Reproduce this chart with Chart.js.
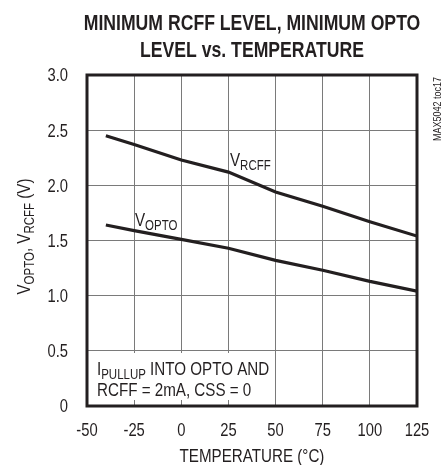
<!DOCTYPE html>
<html>
<head>
<meta charset="utf-8">
<script src="https://cdn.jsdelivr.net/npm/chart.js@4/dist/chart.umd.min.js"></script>
<style>
html,body{margin:0;padding:0;background:#fff;}
#wrap{width:446px;height:465px;position:relative;}
</style>
</head>
<body>
<div id="wrap"><canvas id="c" width="446" height="465"></canvas></div>
<script>
const temps = [-40, -25, 0, 25, 50, 75, 100, 125];
const vrcff = [2.45, 2.37, 2.23, 2.12, 1.94, 1.81, 1.67, 1.54];
const vopto = [1.64, 1.59, 1.51, 1.43, 1.32, 1.23, 1.13, 1.04];
const xTicks = [-50, -25, 0, 25, 50, 75, 100, 125];
const yTicks = [0, 0.5, 1.0, 1.5, 2.0, 2.5, 3.0];
const titleLines = ['MINIMUM RCFF LEVEL, MINIMUM OPTO', 'LEVEL vs. TEMPERATURE'];

const FAM = "'Liberation Sans Narrow','Arial Narrow','Liberation Sans',Arial,sans-serif";
const INK = '#231f20';
const SX = 0.82; // condensed look

// parts: [[text, isSub]]
function txt(ctx, parts, x, y, size, o) {
  o = o || {};
  const sub = Math.round(size * 0.75);
  const w8 = o.bold ? 'bold ' : '';
  let w = 0;
  parts.forEach(p => { ctx.font = w8 + (p[1] ? sub : size) + 'px ' + FAM; w += ctx.measureText(p[0]).width; });
  let start = 0;
  if (o.align === 'center') start = -w / 2;
  else if (o.align === 'right') start = -w;
  ctx.save();
  ctx.translate(x, y);
  if (o.rot) ctx.rotate(o.rot);
  ctx.scale(SX, 1);
  ctx.textAlign = 'left';
  ctx.textBaseline = o.baseline || 'alphabetic';
  let cx = start;
  parts.forEach(p => {
    ctx.font = w8 + (p[1] ? sub : size) + 'px ' + FAM;
    ctx.fillText(p[0], cx, p[1] ? size * 0.22 : 0);
    cx += ctx.measureText(p[0]).width;
  });
  ctx.restore();
}

const deco = {
  id: 'deco',
  beforeDatasetsDraw(chart) {
    // white backing behind the condition note (covers grid lines)
    const ctx = chart.ctx;
    ctx.save();
    ctx.fillStyle = '#fff';
    ctx.fillRect(89, 353, 183, 47);
    ctx.restore();
  },
  afterDatasetsDraw(chart) {
    const ctx = chart.ctx, a = chart.chartArea;
    const xs = chart.scales.x, ys = chart.scales.y;
    ctx.save();
    ctx.strokeStyle = INK;
    ctx.lineWidth = 3;
    ctx.strokeRect(a.left, a.top, a.right - a.left, a.bottom - a.top);
    ctx.fillStyle = INK;
    // tick labels via scales
    xs.ticks.forEach(t => {
      txt(ctx, [[String(t.value), 0]], xs.getPixelForValue(t.value), 436, 18, { align: 'center' });
    });
    ys.ticks.forEach(t => {
      const lab = t.value === 0 ? '0' : t.value.toFixed(1);
      txt(ctx, [[lab, 0]], 68, ys.getPixelForValue(t.value) + 6.4, 18, { align: 'right' });
    });
    // title
    const cx = (a.left + a.right) / 2;
    txt(ctx, [[titleLines[0], 0]], cx, 30, 21.5, { bold: true, align: 'center' });
    txt(ctx, [[titleLines[1], 0]], cx, 56.5, 21.5, { bold: true, align: 'center' });
    // x axis title
    txt(ctx, [['TEMPERATURE (°C)', 0]], cx, 462, 18.5, { align: 'center' });
    // y axis title
    txt(ctx, [['V', 0], ['OPTO', 1], [', V', 0], ['RCFF', 1], [' (V)', 0]], 30, (a.top + a.bottom) / 2 - 4, 18.5,
        { align: 'center', rot: -Math.PI / 2 });
    // series labels
    txt(ctx, [['V', 0], ['RCFF', 1]], 230, 166, 18.5);
    txt(ctx, [['V', 0], ['OPTO', 1]], 135, 226, 18.5);
    // note
    txt(ctx, [['I', 0], ['PULLUP', 1], [' INTO OPTO AND', 0]], 97, 375, 18.5);
    txt(ctx, [['RCFF = 2mA, CSS = 0', 0]], 97, 395.5, 18.5);
    // watermark
    txt(ctx, [['MAX5042 toc17', 0]], 441, 109, 11, { align: 'center', rot: -Math.PI / 2 });
    ctx.restore();
  }
};

const mk = (ys) => temps.map((t, i) => ({ x: t, y: ys[i] }));

new Chart(document.getElementById('c'), {
  type: 'line',
  data: {
    datasets: [
      { label: 'VRCFF', data: mk(vrcff), borderColor: INK, borderWidth: 3.2, pointRadius: 0, tension: 0, fill: false },
      { label: 'VOPTO', data: mk(vopto), borderColor: INK, borderWidth: 3.2, pointRadius: 0, tension: 0, fill: false }
    ]
  },
  options: {
    responsive: false,
    animation: false,
    devicePixelRatio: 1,
    layout: { padding: { top: 75, right: 29, left: 0, bottom: 0 } },
    plugins: { legend: { display: false }, title: { display: false }, tooltip: { enabled: false } },
    scales: {
      x: {
        type: 'linear', min: -50, max: 125,
        afterBuildTicks: s => { s.ticks = xTicks.map(v => ({ value: v })); },
        afterFit: s => { s.height = 59; },
        grid: { color: '#7a7a7a', lineWidth: 1, drawTicks: false },
        border: { display: false },
        ticks: { display: false }
      },
      y: {
        min: 0, max: 3,
        afterBuildTicks: s => { s.ticks = yTicks.map(v => ({ value: v })); },
        afterFit: s => { s.width = 87; },
        grid: { color: '#7a7a7a', lineWidth: 1, drawTicks: false },
        border: { display: false },
        ticks: { display: false }
      }
    }
  },
  plugins: [deco]
});
</script>
</body>
</html>
